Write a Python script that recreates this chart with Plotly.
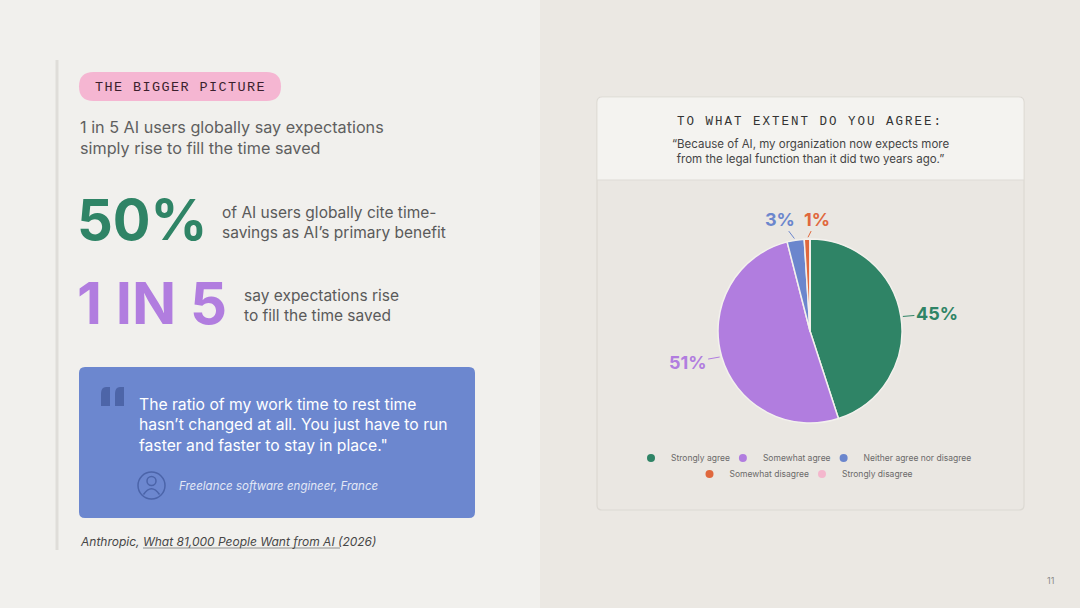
import math
import plotly.graph_objects as go

# survey results (pie)
answers = ["Strongly agree", "Somewhat agree", "Neither agree nor disagree",
           "Somewhat disagree", "Strongly disagree"]
shares = [45, 51, 3, 1, 0]
share_labels = ["45%", "51%", "3%", "1%", ""]
colors = ["#2f8466", "#b17ddf", "#6b86cd", "#e0683d", "#f4b7cd"]
# where each outside label sits relative to its slice edge (px)
label_offsets = [(36, -3), (-34, 6), (-16, -21), (10, -20), (0, 0)]

# headline stats on the left
stat_big = ["50%", "1 IN 5"]
stat_text = ["of AI users globally cite time-<br>savings as AI’s primary benefit",
             "say expectations rise<br>to fill the time saved"]
stat_colors = ["#2f8466", "#b17ddf"]

W, H = 1080, 608
BODY = "Inter"
MONO = "Liberation Mono"


def rrect(x0, y0, x1, y1, r, top_only=False):
    # rounded rectangle path in pixel units (y goes down)
    rb = 0 if top_only else r
    return (f"M{x0+r},{y0} L{x1-r},{y0} Q{x1},{y0} {x1},{y0+r} "
            f"L{x1},{y1-rb} Q{x1},{y1} {x1-rb},{y1} L{x0+rb},{y1} "
            f"Q{x0},{y1} {x0},{y1-rb} L{x0},{y0+r} Q{x0},{y0} {x0+r},{y0} Z")


def quote_block(x0, y0):
    # one blocky opening quote glyph
    return (f"M{x0},{y0+7} Q{x0},{y0} {x0+5},{y0} L{x0+9},{y0} "
            f"L{x0+9},{y0+19} L{x0},{y0+19} Z")


fig = go.Figure()

# pie centred in the card
cx, cy, rad = 810, 331, 92
fig.add_trace(go.Pie(
    labels=answers, values=shares, textinfo="none",
    sort=False, direction="clockwise", rotation=0,
    marker=dict(colors=colors, line=dict(color="#f3f1ed", width=1.5)),
    domain=dict(x=[(cx - rad) / W, (cx + rad) / W],
                y=[(H - cy - rad) / H, (H - cy + rad) / H]),
    showlegend=False, hoverinfo="label+percent",
))

# legend entries with round markers, split over two rows
for i, (name, col) in enumerate(zip(answers, colors)):
    fig.add_trace(go.Scatter(
        x=[None], y=[None], mode="markers", name=name,
        marker=dict(size=8, color=col),
        legend="legend" if i < 3 else "legend2",
    ))

shapes = []
# right panel
shapes.append(dict(type="rect", x0=540, x1=W, y0=0, y1=H, fillcolor="#ebe8e3",
                   line=dict(width=0), layer="below"))
# left rule
shapes.append(dict(type="line", x0=57, x1=57, y0=60, y1=550,
                   line=dict(color="#dfddd9", width=3), layer="below"))
# pill
shapes.append(dict(type="path", path=rrect(79, 72, 281, 101, 14.5),
                   fillcolor="#f5b6d2", line=dict(width=0), layer="below"))
# quote box
shapes.append(dict(type="path", path=rrect(79, 367, 475, 518, 6),
                   fillcolor="#6c87cf", line=dict(width=0), layer="below"))
for qx in (101, 115):
    shapes.append(dict(type="path", path=quote_block(qx, 387),
                       fillcolor="#4d65a8", line=dict(width=0), layer="below"))
# person icon
shapes.append(dict(type="circle", x0=138, x1=165, y0=472, y1=499,
                   line=dict(color="#4b64a9", width=1.5), layer="below"))
shapes.append(dict(type="circle", x0=147, x1=156, y0=476.5, y1=485.5,
                   line=dict(color="#4b64a9", width=1.5), layer="below"))
shapes.append(dict(type="path", path="M143.5,494.5 Q151.5,483 159.5,494.5",
                   line=dict(color="#4b64a9", width=1.5), layer="below"))
# chart card
shapes.append(dict(type="path", path=rrect(597, 97, 1024, 510, 5),
                   fillcolor="#eae7e2", line=dict(color="#dcd9d3", width=1.2),
                   layer="below"))
shapes.append(dict(type="path", path=rrect(597.5, 97.5, 1023.5, 180, 5, top_only=True),
                   fillcolor="#f4f3f0", line=dict(width=0), layer="below"))
shapes.append(dict(type="line", x0=597, x1=1024, y0=180, y1=180,
                   line=dict(color="#dedbd5", width=1.2), layer="below"))
# citation underline
shapes.append(dict(type="line", x0=143, x1=340, y0=548, y1=548,
                   line=dict(color="#777777", width=0.8), layer="below"))

ann = []


def text(x, y, s, size, color, family=BODY, xanchor="left", **kw):
    ann.append(dict(x=x, y=y, xref="x", yref="y", text=s, showarrow=False,
                    xanchor=xanchor, yanchor="middle", align=xanchor if xanchor != "center" else "center",
                    font=dict(family=family, size=size, color=color, **kw)))


# outside labels of the pie, anchored on each slice's mid-angle
total = sum(shares)
cum = 0
for v, lab, col, (ox, oy) in zip(shares, share_labels, colors, label_offsets):
    mid = 2 * math.pi * (cum + v / 2) / total
    cum += v
    if not lab:
        continue
    ann.append(dict(
        x=cx + rad * math.sin(mid), y=cy - rad * math.cos(mid), xref="x", yref="y",
        text=lab, showarrow=True, arrowhead=0, arrowwidth=1, arrowcolor=col,
        standoff=2, ax=ox, ay=oy,
        font=dict(family=BODY, size=18, color=col, weight=700),
    ))

text(180, 87, "<span style='letter-spacing:1.4px'>THE BIGGER PICTURE</span>",
     13.5, "#3b1f2d", family=MONO, xanchor="center")
text(78, 137, "1 in 5 AI users globally say expectations<br>simply rise to fill the time saved",
     16.2, "#5f5f5f")

big_y = [220, 303]
big_size = [56, 58]
side_x = [220, 242]
for s, t, c, y, sz, sx in zip(stat_big, stat_text, stat_colors, big_y, big_size, side_x):
    text(75, y, s, sz, c, weight=700)
    text(sx, y + 2, t, 15.5, "#5a5a5a")

text(137, 425, "The ratio of my work time to rest time<br>hasn’t changed at all. You just have to run<br>faster and faster to stay in place.\"",
     15.7, "#ffffff")
text(177, 486, "<i>Freelance software engineer, France</i>", 11.5, "#e3e8f6")
text(78, 541, "<i>Anthropic, What 81,000 People Want from AI (2026)</i>", 12, "#474747")

text(810, 122, "<span style='letter-spacing:2px'>TO WHAT EXTENT DO YOU AGREE:</span>",
     12.5, "#333333", family=MONO, xanchor="center")
text(810, 151, "“Because of AI, my organization now expects more<br>from the legal function than it did two years ago.”",
     11.5, "#454545", xanchor="center")
text(1050, 580, "11", 9, "#8a8a8a", xanchor="center")

leg_font = dict(family=BODY, size=8.5, color="#6a6a6a")
fig.update_layout(
    width=W, height=H,
    margin=dict(l=0, r=0, t=0, b=0),
    paper_bgcolor="#f1f0ed", plot_bgcolor="rgba(0,0,0,0)",
    xaxis=dict(range=[0, W], visible=False, fixedrange=True),
    yaxis=dict(range=[H, 0], visible=False, fixedrange=True),
    shapes=shapes, annotations=ann,
    legend=dict(orientation="h", x=cx / W, xanchor="center", y=(H - 458) / H,
                yanchor="middle", font=leg_font, bgcolor="rgba(0,0,0,0)",
                indentation=-12),
    legend2=dict(orientation="h", x=cx / W, xanchor="center", y=(H - 474) / H,
                 yanchor="middle", font=leg_font, bgcolor="rgba(0,0,0,0)",
                 indentation=-12),
    showlegend=True,
)

fig.write_html("out.html", config={"displayModeBar": False},
               post_script="document.body.style.margin='0';")
